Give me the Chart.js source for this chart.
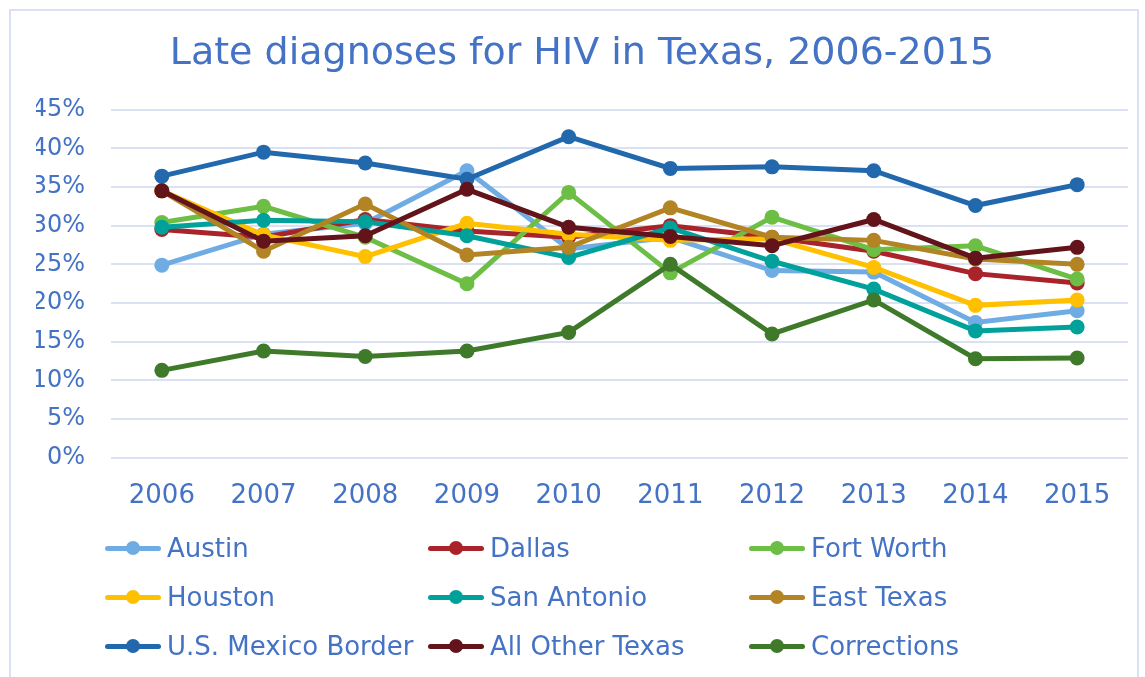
<!DOCTYPE html>
<html>
<head>
<meta charset="utf-8">
<script src="https://cdn.jsdelivr.net/npm/chart.js@4.4.0/dist/chart.umd.min.js"></script>
<style>
  body { margin: 0; background: #fff; font-family: "DejaVu Sans", Verdana, sans-serif; }
  #wrap { position: relative; width: 1145px; height: 677px; overflow: hidden; }
  #frame { position: absolute; left: 9px; top: 9px; width: 1130px; height: 700px; border: 2px solid #D9E1F2; box-sizing: border-box; }
  #myChart { position: absolute; left: 0; top: 0; }
  #legend { position: absolute; left: 105px; top: 530px; display: grid;
            grid-template-columns: 323px 321px 330px; grid-auto-rows: 49px; }
  .item { display: flex; align-items: center; color: #4472C4; font-size: 26px; height: 36px; white-space: nowrap; }
  .sw { position: relative; width: 56px; height: 14px; margin-right: 6px; flex: none; }
  .sw .ln { position: absolute; left: 0; right: 0; top: 4.5px; height: 5px; border-radius: 3px; }
  .sw .dt { position: absolute; left: 21px; top: 0; width: 14px; height: 14px; border-radius: 50%; }
</style>
</head>
<body>
<div id="wrap">
  <div id="frame"></div>
  <canvas id="myChart" width="1145" height="677"></canvas>
  <div id="legend"></div>
</div>
<script>
var years = ["2006", "2007", "2008", "2009", "2010", "2011", "2012", "2013", "2014", "2015"];

var austin      = [24.9, 28.9, 30.3, 37.1, 27.0, 28.5, 24.2, 24.0, 17.5, 19.0];
var dallas      = [29.5, 28.5, 30.8, 29.3, 28.5, 30.0, 28.5, 26.7, 23.8, 22.6];
var fortWorth   = [30.4, 32.5, 28.5, 22.5, 34.3, 23.9, 31.1, 26.9, 27.4, 23.1];
var houston     = [34.5, 28.8, 26.0, 30.3, 28.9, 28.1, 28.3, 24.6, 19.7, 20.4];
var sanAntonio  = [29.8, 30.7, 30.5, 28.7, 25.9, 29.7, 25.4, 21.8, 16.4, 16.9];
var eastTexas   = [34.5, 26.7, 32.8, 26.2, 27.2, 32.3, 28.5, 28.1, 25.7, 25.0];
var border      = [36.4, 39.5, 38.1, 36.0, 41.5, 37.4, 37.6, 37.1, 32.6, 35.3];
var allOther    = [34.5, 28.0, 28.7, 34.7, 29.8, 28.6, 27.4, 30.8, 25.8, 27.2];
var corrections = [11.3, 13.8, 13.1, 13.8, 16.2, 25.0, 16.0, 20.4, 12.8, 12.9];

var seriesNames = ["Austin", "Dallas", "Fort Worth", "Houston", "San Antonio", "East Texas",
                   "U.S. Mexico Border", "All Other Texas", "Corrections"];
var seriesValues = [austin, dallas, fortWorth, houston, sanAntonio, eastTexas, border, allOther, corrections];
var seriesColors = ["#6FACE3", "#A9232A", "#6DBE45", "#FFC000", "#00A19A", "#B38424",
                    "#2268AC", "#62141A", "#3F7A2A"];

var textColor = "#4472C4";

var datasets = seriesNames.map(function (name, i) {
    return {
        label: name,
        data: seriesValues[i],
        borderColor: seriesColors[i],
        backgroundColor: seriesColors[i],
        borderWidth: 5,
        pointRadius: 7.5,
        pointHoverRadius: 7.5,
        pointBorderWidth: 0,
        tension: 0,
        fill: false,
        // later series drawn on top, like the original
        order: seriesNames.length - i
    };
});

var ctx = document.getElementById('myChart');

const myChart = new Chart(ctx, {
    type: "line",
    data: {
        labels: years,
        datasets: datasets
    },
    options: {
        responsive: false,
        animation: false,
        layout: {
            padding: { top: 18, right: 17, bottom: 150, left: 36 }
        },
        plugins: {
            legend: { display: false },
            tooltip: { enabled: false },
            title: {
                display: true,
                text: "Late diagnoses for HIV in Texas, 2006-2015",
                color: textColor,
                font: { family: "DejaVu Sans", size: 38, weight: "normal" },
                padding: { top: 13, bottom: 33 }
            }
        },
        scales: {
            x: {
                offset: true,
                grid: { display: false },
                border: { display: false },
                ticks: {
                    color: textColor,
                    font: { family: "DejaVu Sans", size: 26 },
                    padding: 15,
                    maxRotation: 0
                }
            },
            y: {
                min: 0,
                max: 45,
                grid: { color: "#D9E1F2", lineWidth: 2, drawTicks: false },
                border: { display: false },
                afterFit: function (scale) { scale.width = 75; },
                ticks: {
                    stepSize: 5,
                    color: textColor,
                    font: { family: "DejaVu Sans", size: 24 },
                    padding: 26,
                    callback: function (v) { return v + "%"; }
                }
            }
        }
    }
});

// legend in three columns, as in the original
var legendBox = document.getElementById('legend');
seriesNames.forEach(function (name, i) {
    var item = document.createElement('div');
    item.className = 'item';
    item.innerHTML = '<span class="sw"><span class="ln" style="background:' + seriesColors[i] +
        '"></span><span class="dt" style="background:' + seriesColors[i] + '"></span></span>' +
        '<span>' + name + '</span>';
    legendBox.appendChild(item);
});
</script>
</body>
</html>
